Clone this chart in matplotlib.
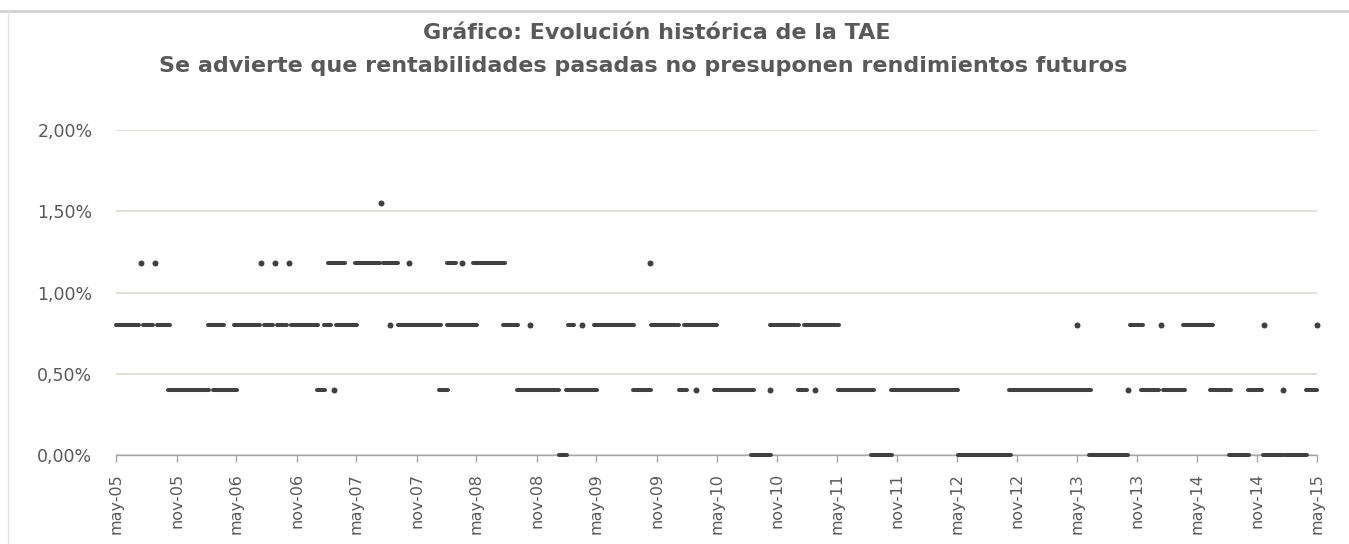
import matplotlib
matplotlib.use("Agg")
import matplotlib.pyplot as plt
import matplotlib.dates as mdates
from matplotlib.lines import Line2D
import pandas as pd

# TAE levels (in %) and the periods (first / last observation) at each level
periods_080 = [
    ("2005-05-01", "2005-07-10"), ("2005-07-22", "2005-08-22"), ("2005-09-04", "2005-10-13"),
    ("2006-02-04", "2006-03-25"), ("2006-04-25", "2006-07-13"), ("2006-07-25", "2006-08-22"),
    ("2006-09-04", "2006-10-04"), ("2006-10-16", "2007-01-04"), ("2007-01-22", "2007-02-13"),
    ("2007-03-01", "2007-05-04"), ("2007-08-13", "2007-08-13"), ("2007-09-04", "2008-01-13"),
    ("2008-02-01", "2008-05-04"), ("2008-07-22", "2008-09-04"), ("2008-10-10", "2008-10-10"),
    ("2009-02-04", "2009-02-22"), ("2009-03-19", "2009-03-19"), ("2009-04-25", "2009-08-22"),
    ("2009-10-13", "2010-01-07"), ("2010-01-22", "2010-05-01"), ("2010-10-10", "2011-01-07"),
    ("2011-01-22", "2011-05-07"), ("2013-05-01", "2013-05-01"), ("2013-10-10", "2013-11-19"),
    ("2014-01-13", "2014-01-13"), ("2014-03-19", "2014-06-19"), ("2014-11-22", "2014-11-22"),
    ("2015-05-01", "2015-05-01"),
]
periods_040 = [
    ("2005-10-07", "2006-02-07"), ("2006-02-19", "2006-05-04"), ("2007-01-01", "2007-01-28"),
    ("2007-02-22", "2007-02-22"), ("2008-01-07", "2008-02-04"), ("2008-09-01", "2009-01-07"),
    ("2009-01-28", "2009-05-04"), ("2009-08-19", "2009-10-13"), ("2010-01-07", "2010-02-01"),
    ("2010-03-01", "2010-03-01"), ("2010-04-22", "2010-08-22"), ("2010-10-10", "2010-10-10"),
    ("2011-01-04", "2011-02-01"), ("2011-02-25", "2011-02-25"), ("2011-05-04", "2011-08-22"),
    ("2011-10-13", "2012-05-04"), ("2012-10-07", "2013-06-13"), ("2013-10-04", "2013-10-04"),
    ("2013-11-13", "2014-01-07"), ("2014-01-19", "2014-03-25"), ("2014-06-10", "2014-08-13"),
    ("2014-10-04", "2014-11-16"), ("2015-01-19", "2015-01-19"), ("2015-03-28", "2015-05-01"),
]
periods_118 = [
    ("2005-07-16", "2005-07-16"), ("2005-08-28", "2005-08-28"), ("2006-07-16", "2006-07-16"),
    ("2006-08-28", "2006-08-28"), ("2006-10-10", "2006-10-10"), ("2007-02-04", "2007-03-28"),
    ("2007-04-28", "2007-07-13"), ("2007-07-22", "2007-09-07"), ("2007-10-10", "2007-10-10"),
    ("2008-02-01", "2008-02-28"), ("2008-03-19", "2008-03-19"), ("2008-04-22", "2008-07-28"),
    ("2009-10-10", "2009-10-10"),
]
periods_155 = [("2007-07-16", "2007-07-16")]
periods_000 = [
    ("2009-01-07", "2009-02-01"), ("2010-08-13", "2010-10-13"), ("2011-08-13", "2011-10-16"),
    ("2012-05-04", "2012-10-13"), ("2013-06-07", "2013-10-04"), ("2014-08-07", "2014-10-07"),
    ("2014-11-19", "2015-01-19"), ("2015-01-25", "2015-04-01"),
]
levels = [0.80, 0.40, 1.18, 1.55, 0.00]
level_periods = [periods_080, periods_040, periods_118, periods_155, periods_000]

tick_dates = pd.date_range("2005-05-01", "2015-05-01", freq="6MS")
tick_labels = ["may-05", "nov-05", "may-06", "nov-06", "may-07", "nov-07", "may-08",
               "nov-08", "may-09", "nov-09", "may-10", "nov-10", "may-11", "nov-11",
               "may-12", "nov-12", "may-13", "nov-13", "may-14", "nov-14", "may-15"]
ytick_values = [0.0, 0.5, 1.0, 1.5, 2.0]
ytick_labels = ["0,00%", "0,50%", "1,00%", "1,50%", "2,00%"]

title_1 = "Gráfico: Evolución histórica de la TAE"
title_2 = "Se advierte que rentabilidades pasadas no presuponen rendimientos futuros"

text_color = "#595959"
dot_color = "#404040"

fig = plt.figure(figsize=(13.49, 5.44), dpi=100)
ax = fig.add_axes([116 / 1349, 1 - 455 / 544, (1317 - 116) / 1349, (455 - 130) / 544])

# draw every period as a short thick run of dots
for lvl, periods in zip(levels, level_periods):
    for start, end in periods:
        xs = mdates.date2num(pd.to_datetime([start, end]))
        if start == end:
            ax.plot(xs[:1], [lvl], color=dot_color, ls="none", marker="o", ms=4.3,
                    mew=0, clip_on=False, zorder=3)
        else:
            ax.plot(xs, [lvl, lvl], color=dot_color, lw=2.9, solid_capstyle="round",
                    clip_on=False, zorder=3)

ax.set_xlim(mdates.date2num(pd.Timestamp("2005-05-01")),
            mdates.date2num(pd.Timestamp("2015-05-01")))
ax.set_ylim(0, 2.0)

ax.set_xticks(mdates.date2num(tick_dates))
ax.set_xticklabels(tick_labels, rotation=90, fontsize=11.5, color=text_color,
                   family="DejaVu Sans")
ax.set_yticks(ytick_values)
ax.set_yticklabels(ytick_labels, fontsize=12.5, color=text_color, family="DejaVu Sans")

ax.tick_params(axis="x", direction="out", length=5, width=1, color="#a6a6a6", pad=8)
ax.tick_params(axis="y", length=0, pad=17)

ax.yaxis.grid(True, color="#dcdcd4", lw=1.3)
ax.set_axisbelow(True)
for side in ["top", "right", "left"]:
    ax.spines[side].set_visible(False)
ax.spines["bottom"].set_color("#a6a6a6")
ax.spines["bottom"].set_linewidth(1.0)

fig.text(0.487, 1 - 33 / 544, title_1, ha="center", va="center", fontsize=16,
         fontweight="bold", color=text_color, family="DejaVu Sans")
fig.text(0.477, 1 - 66 / 544, title_2, ha="center", va="center", fontsize=16,
         fontweight="bold", color=text_color, family="DejaVu Sans")

# faint frame of the original chart box
fig.add_artist(Line2D([0, 1], [1 - 11 / 544, 1 - 11 / 544], transform=fig.transFigure,
                      color="#d2d2d2", lw=2.0))
fig.add_artist(Line2D([8 / 1349, 8 / 1349], [0, 1 - 11 / 544], transform=fig.transFigure,
                      color="#e3e3e3", lw=1.0))

fig.savefig("out.png", dpi=100, facecolor="white")
